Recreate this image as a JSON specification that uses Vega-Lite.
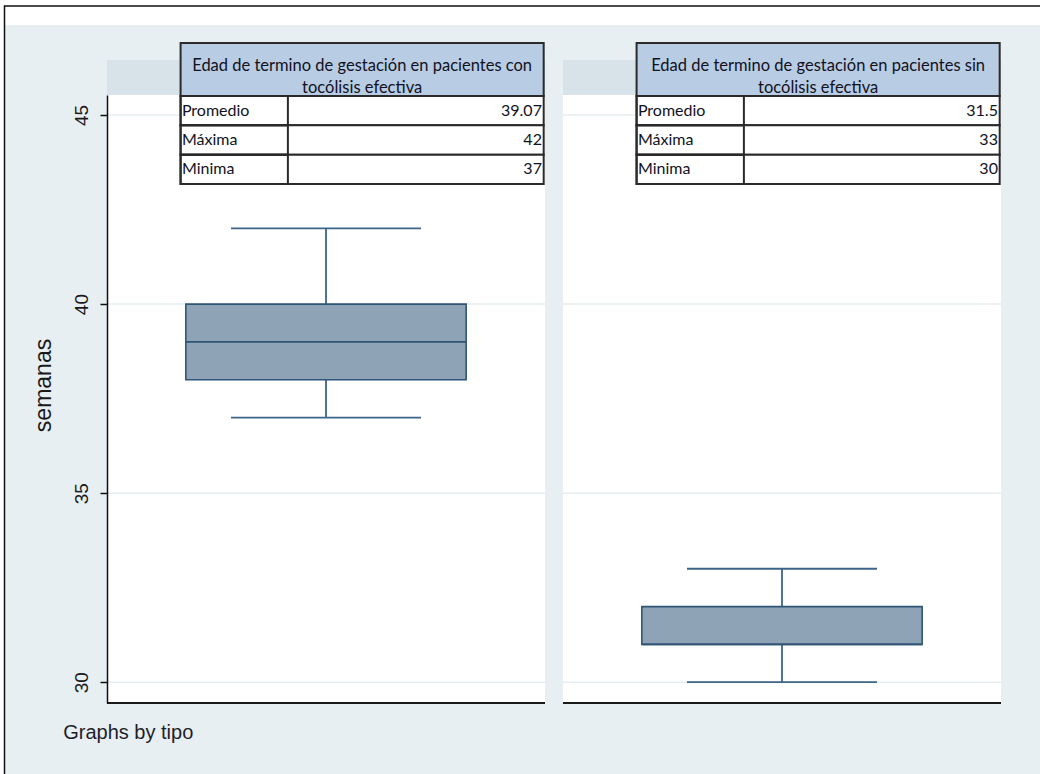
{
  "$schema": "https://vega.github.io/schema/vega-lite/v6.json",
  "width": 894,
  "height": 608,
  "autosize": {"type": "none"},
  "padding": {"left": 107, "top": 95, "right": 39, "bottom": 71},
  "background": "#ffffff",
  "config": {
    "view": {"stroke": null},
    "text": {"font": "Lato"},
    "axisY": {
      "grid": false,
      "domainColor": "#111111",
      "domainWidth": 1.5,
      "tickColor": "#111111",
      "tickWidth": 1.5,
      "tickSize": 7,
      "labelAngle": 270,
      "labelAlign": "center",
      "labelBaseline": "bottom",
      "labelPadding": 9,
      "labelFont": "Liberation Sans",
      "labelFontSize": 19,
      "labelColor": "#1a1a1a",
      "titleFont": "Liberation Sans",
      "titleFontSize": 23,
      "titleFontWeight": "normal",
      "titleColor": "#1a1a1a",
      "titleAngle": 270,
      "titleAlign": "center",
      "titleBaseline": "middle",
      "titleX": -64,
      "titleY": 290
    }
  },
  "datasets": {
    "stats": [
      {"tipo": "con", "Minima": 37, "q1": 38, "mediana": 39, "q3": 40, "Máxima": 42, "Promedio": 39.07,
       "titulo": "Edad de termino  de gestación en pacientes con", "titulo2": "tocólisis  efectiva"},
      {"tipo": "sin", "Minima": 30, "q1": 31, "mediana": 31, "q3": 32, "Máxima": 33, "Promedio": 31.5,
       "titulo": "Edad de termino  de gestación en pacientes sin", "titulo2": "tocólisis  efectiva"}
    ],
    "rejilla": [
      {"tipo": "con", "semanas": 30}, {"tipo": "con", "semanas": 35},
      {"tipo": "con", "semanas": 40}, {"tipo": "con", "semanas": 45},
      {"tipo": "sin", "semanas": 30}, {"tipo": "sin", "semanas": 35},
      {"tipo": "sin", "semanas": 40}, {"tipo": "sin", "semanas": 45}
    ]
  },
  "data": {"name": "stats"},
  "layer": [
    {
      "layer": [
        {
          "data": {"values": [{}]},
          "mark": {"type": "rect", "fill": "#e8eff2"},
          "encoding": {
            "x": {"datum": "con", "type": "nominal", "bandPosition": -0.233,
                  "scale": {"domain": ["con", "sin"], "paddingInner": 0.03947, "paddingOuter": 0}, "axis": null},
            "x2": {"datum": "sin", "bandPosition": 1.226},
            "y": {"datum": 47.381, "type": "quantitative",
                  "scale": {"domain": [29.45, 45.53], "nice": false, "zero": false},
                  "axis": {"values": [30, 35, 40, 45], "title": "semanas", "zindex": 1}},
            "y2": {"datum": 26.885}
          }
        },
        {
          "data": {"values": [{}]},
          "mark": {"type": "rect", "fill": null, "stroke": "#111111", "strokeWidth": 1.5},
          "encoding": {
            "x": {"datum": "con", "type": "nominal", "bandPosition": -0.234},
            "x2": {"datum": "sin", "bandPosition": 1.226},
            "y": {"datum": 47.884, "type": "quantitative"},
            "y2": {"datum": 26.885}
          }
        },
        {
          "mark": {"type": "rect", "fill": "#d8e3e9"},
          "encoding": {
            "x": {"field": "tipo", "type": "nominal"},
            "y": {"datum": 45.53, "type": "quantitative"},
            "y2": {"datum": 46.456}
          }
        },
        {
          "mark": {"type": "rect", "fill": "#ffffff"},
          "encoding": {
            "x": {"field": "tipo", "type": "nominal"},
            "y": {"datum": 29.45, "type": "quantitative"},
            "y2": {"datum": 45.53}
          }
        },
        {
          "data": {"name": "rejilla"},
          "mark": {"type": "rule", "stroke": "#e6eef1", "strokeWidth": 1.5},
          "encoding": {
            "x": {"field": "tipo", "type": "nominal", "bandPosition": 0},
            "x2": {"field": "tipo", "bandPosition": 1},
            "y": {"field": "semanas", "type": "quantitative"}
          }
        },
        {
          "mark": {"type": "rule", "stroke": "#1a1a1a", "strokeWidth": 2},
          "encoding": {
            "x": {"field": "tipo", "type": "nominal", "bandPosition": 0},
            "x2": {"field": "tipo", "bandPosition": 1},
            "y": {"datum": 29.45, "type": "quantitative"}
          }
        },
        {
          "mark": {"type": "rule", "stroke": "#3d6489", "strokeWidth": 1.8},
          "encoding": {
            "x": {"field": "tipo", "type": "nominal"},
            "y": {"field": "Minima", "type": "quantitative"},
            "y2": {"field": "q1"}
          }
        },
        {
          "mark": {"type": "rule", "stroke": "#3d6489", "strokeWidth": 1.8},
          "encoding": {
            "x": {"field": "tipo", "type": "nominal"},
            "y": {"field": "q3", "type": "quantitative"},
            "y2": {"field": "Máxima"}
          }
        },
        {
          "mark": {"type": "tick", "orient": "horizontal", "size": 190, "thickness": 1.8, "color": "#3d6489", "opacity": 1},
          "encoding": {
            "x": {"field": "tipo", "type": "nominal"},
            "y": {"field": "Minima", "type": "quantitative"}
          }
        },
        {
          "mark": {"type": "tick", "orient": "horizontal", "size": 190, "thickness": 1.8, "color": "#3d6489", "opacity": 1},
          "encoding": {
            "x": {"field": "tipo", "type": "nominal"},
            "y": {"field": "Máxima", "type": "quantitative"}
          }
        },
        {
          "mark": {"type": "bar", "width": {"band": 0.64}, "fill": "#8ea3b6", "stroke": "#2f5576", "strokeWidth": 1.6},
          "encoding": {
            "x": {"field": "tipo", "type": "nominal"},
            "y": {"field": "q1", "type": "quantitative"},
            "y2": {"field": "q3"}
          }
        },
        {
          "mark": {"type": "tick", "orient": "horizontal", "size": 280, "thickness": 1.6, "color": "#2f5576", "opacity": 1},
          "encoding": {
            "x": {"field": "tipo", "type": "nominal"},
            "y": {"field": "mediana", "type": "quantitative"}
          }
        },
        {
          "mark": {"type": "rect", "fill": "#b8cce4", "stroke": "#2a2a2a", "strokeWidth": 2},
          "encoding": {
            "x": {"field": "tipo", "type": "nominal", "bandPosition": 0.168},
            "x2": {"field": "tipo", "bandPosition": 0.997},
            "y": {"datum": 46.905, "type": "quantitative"},
            "y2": {"datum": 45.504}
          }
        },
        {
          "mark": {"type": "text", "align": "center", "baseline": "middle", "fontSize": 16.5, "color": "#12121e"},
          "encoding": {
            "x": {"field": "tipo", "type": "nominal", "bandPosition": 0.5825},
            "y": {"datum": 46.297, "type": "quantitative"},
            "text": {"field": "titulo"}
          }
        },
        {
          "mark": {"type": "text", "align": "center", "baseline": "middle", "fontSize": 16.5, "color": "#12121e"},
          "encoding": {
            "x": {"field": "tipo", "type": "nominal", "bandPosition": 0.5825},
            "y": {"datum": 45.715, "type": "quantitative"},
            "text": {"field": "titulo2"}
          }
        },
        {
          "data": {"values": [{"nota": "Graphs by tipo"}]},
          "mark": {"type": "text", "align": "left", "baseline": "middle", "font": "Liberation Sans", "fontSize": 20, "color": "#1e1e2a"},
          "encoding": {
            "x": {"datum": "con", "type": "nominal", "bandPosition": -0.1},
            "y": {"datum": 28.657, "type": "quantitative"},
            "text": {"field": "nota"}
          }
        }
      ]
    },
    {
      "transform": [{"fold": ["Promedio", "Máxima", "Minima"], "as": ["fila", "valor"]}],
      "encoding": {
        "y": {"field": "fila", "type": "ordinal",
              "scale": {"domain": ["Promedio", "Máxima", "Minima"], "range": [1, 89], "paddingInner": 0, "paddingOuter": 0},
              "axis": null}
      },
      "layer": [
        {
          "mark": {"type": "rect", "fill": "#ffffff", "stroke": "#2a2a2a", "strokeWidth": 2},
          "encoding": {
            "x": {"field": "tipo", "type": "nominal", "bandPosition": 0.168},
            "x2": {"field": "tipo", "bandPosition": 0.997}
          }
        },
        {
          "mark": {"type": "rect", "fill": null, "stroke": "#2a2a2a", "strokeWidth": 2},
          "encoding": {
            "x": {"field": "tipo", "type": "nominal", "bandPosition": 0.168},
            "x2": {"field": "tipo", "bandPosition": 0.413}
          }
        },
        {
          "mark": {"type": "text", "align": "left", "baseline": "middle", "fontSize": 16, "color": "#12121e"},
          "encoding": {
            "x": {"field": "tipo", "type": "nominal", "bandPosition": 0.171},
            "text": {"field": "fila"}
          }
        },
        {
          "mark": {"type": "text", "align": "right", "baseline": "middle", "fontSize": 16, "color": "#12121e"},
          "encoding": {
            "x": {"field": "tipo", "type": "nominal", "bandPosition": 0.993},
            "text": {"field": "valor", "type": "nominal"}
          }
        }
      ]
    }
  ],
  "resolve": {"scale": {"y": "independent"}}
}
